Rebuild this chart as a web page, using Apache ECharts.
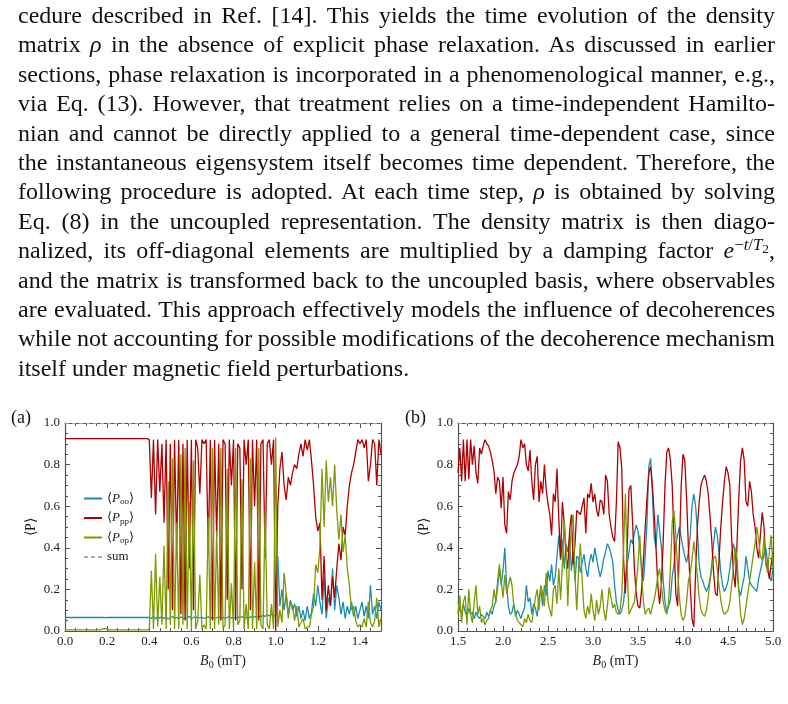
<!DOCTYPE html>
<html>
<head>
<meta charset="utf-8">
<script src="https://cdn.jsdelivr.net/npm/echarts@6/dist/echarts.min.js"></script>
<style>
html, body { margin: 0; padding: 0; background: #fff; }
#chart { position: absolute; left: 0; top: 0; width: 788px; height: 704px; }
#txt { position: absolute; left: 18px; top: 1px; width: 757px; font-family: 'Liberation Serif', serif;
       font-size: 24px; line-height: 29.4px; color: #111; }
#txt div { white-space: nowrap; }
#txt sup { font-size: 0.7em; line-height: 0; vertical-align: 0.5em; }
#txt sub { font-size: 0.8em; line-height: 0; vertical-align: -0.25em; }
</style>
</head>
<body>
<div id="chart"></div>
<div id="txt">
<div><span>cedure described in Ref. [14]. This yields the time evolution of the density</span></div>
<div><span>matrix <i>ρ</i> in the absence of explicit phase relaxation. As discussed in earlier</span></div>
<div><span>sections, phase relaxation is incorporated in a phenomenological manner, e.g.,</span></div>
<div><span>via Eq. (13). However, that treatment relies on a time-independent Hamilto-</span></div>
<div><span>nian and cannot be directly applied to a general time-dependent case, since</span></div>
<div><span>the instantaneous eigensystem itself becomes time dependent. Therefore, the</span></div>
<div><span>following procedure is adopted. At each time step, <i>ρ</i> is obtained by solving</span></div>
<div><span>Eq. (8) in the uncoupled representation. The density matrix is then diago-</span></div>
<div><span>nalized, its off-diagonal elements are multiplied by a damping factor <i>e</i><sup>−<i>t</i>/<i>T</i><sub>2</sub></sup>,</span></div>
<div><span>and the matrix is transformed back to the uncoupled basis, where observables</span></div>
<div><span>are evaluated. This approach effectively models the influence of decoherences</span></div>
<div><span>while not accounting for possible modifications of the decoherence mechanism</span></div>
<div class="last"><span>itself under magnetic field perturbations.</span></div>
</div>
<script>
// panel (a): B0 from 0 to 1.5 mT, step 0.01
const stepA = 0.01;
const redA = [
  0.925,0.925,0.925,0.925,0.925,0.925,0.925,0.925,0.925,0.925,
  0.925,0.925,0.925,0.925,0.925,0.925,0.925,0.925,0.925,0.925,
  0.925,0.925,0.925,0.925,0.925,0.925,0.925,0.925,0.925,0.925,
  0.925,0.925,0.925,0.925,0.925,0.925,0.925,0.925,0.925,0.925,
  0.92,0.64,0.92,0.56,0.92,0.67,0.90,0.52,0.92,0.20,
  0.90,0.10,0.92,0.40,0.92,0.08,0.90,0.05,0.92,0.30,
  0.92,0.10,0.92,0.88,0.66,0.92,0.90,0.92,0.38,0.92,
  0.05,0.92,0.45,0.90,0.05,0.92,0.90,0.15,0.92,0.70,
  0.92,0.05,0.90,0.88,0.20,0.92,0.80,0.92,0.10,0.92,
  0.60,0.92,0.05,0.90,0.92,0.35,0.90,0.92,0.80,0.92,
  0.00,
  0.60,0.78,0.86,0.70,0.63,0.74,0.70,0.76,0.80,0.78,
  0.85,0.90,0.84,0.92,0.87,0.92,0.82,0.70,0.55,0.48,
  0.52,0.15,0.36,0.10,0.22,0.12,0.26,0.16,0.30,0.42,
  0.34,0.50,0.46,0.60,0.70,0.76,0.80,0.86,0.92,0.90,
  0.92,0.88,0.92,0.72,0.80,0.92,0.90,0.70,0.92,0.85
];
const greenA = [
  0.005,0.005,0.005,0.005,0.005,0.005,0.005,0.005,0.005,0.005,
  0.005,0.005,0.005,0.005,0.005,0.005,0.005,0.005,0.01,0.012,
  0.01,0.005,0.005,0.005,0.005,0.005,0.005,0.005,0.005,0.005,
  0.005,0.005,0.005,0.005,0.005,0.005,0.005,0.005,0.005,0.005,
  0.01,0.29,0.01,0.37,0.02,0.26,0.03,0.41,0.01,0.72,
  0.03,0.83,0.01,0.52,0.01,0.85,0.03,0.88,0.01,0.62,
  0.01,0.82,0.01,0.05,0.27,0.01,0.03,0.01,0.55,0.01,
  0.88,0.01,0.48,0.03,0.88,0.01,0.03,0.78,0.01,0.23,
  0.01,0.88,0.03,0.05,0.73,0.01,0.13,0.01,0.83,0.01,
  0.33,0.01,0.88,0.03,0.01,0.58,0.03,0.01,0.13,0.01,
  0.93,
  0.02,0.10,0.04,0.28,0.18,0.06,0.14,0.12,0.05,0.12,
  0.02,0.04,0.06,0.01,0.02,0.02,0.08,0.12,0.32,0.28,
  0.40,0.78,0.50,0.82,0.62,0.74,0.60,0.80,0.58,0.44,
  0.56,0.38,0.46,0.30,0.22,0.10,0.12,0.05,0.02,0.03,
  0.02,0.06,0.02,0.14,0.04,0.02,0.05,0.16,0.02,0.06
];
const blueA = [
  0.065,0.065,0.065,0.065,0.065,0.065,0.065,0.065,0.065,0.065,
  0.065,0.065,0.065,0.065,0.065,0.065,0.065,0.065,0.066,0.064,
  0.066,0.065,0.065,0.065,0.065,0.065,0.065,0.065,0.065,0.065,
  0.065,0.065,0.065,0.065,0.065,0.065,0.065,0.065,0.065,0.065,
  0.065,0.06,0.07,0.058,0.068,0.062,0.07,0.06,0.066,0.058,
  0.064,0.07,0.06,0.066,0.058,0.068,0.062,0.06,0.066,0.07,
  0.06,0.065,0.068,0.062,0.064,0.066,0.06,0.065,0.068,0.062,
  0.066,0.06,0.064,0.068,0.062,0.066,0.06,0.065,0.07,0.062,
  0.066,0.06,0.068,0.064,0.07,0.062,0.066,0.06,0.068,0.064,
  0.07,0.066,0.072,0.068,0.075,0.07,0.078,0.072,0.08,0.075,
  0.07,
  0.36,0.12,0.20,0.10,0.18,0.08,0.15,0.10,0.13,0.07,
  0.12,0.06,0.10,0.05,0.12,0.06,0.09,0.18,0.12,0.22,
  0.14,0.08,0.26,0.06,0.16,0.12,0.30,0.10,0.22,0.16,
  0.08,0.14,0.06,0.12,0.08,0.14,0.07,0.12,0.06,0.10,
  0.14,0.07,0.12,0.06,0.22,0.08,0.12,0.06,0.14,0.10
];
const sumA = [[0, 0.997], [1.5, 0.997]];

// panel (b): B0 from 1.5 to 5.0 mT, step 0.02
const startB = 1.5;
const stepB = 0.02;
const redB = [
  0.76,0.88,0.72,0.92,0.72,0.92,0.73,0.92,0.80,0.89,
  0.76,0.71,0.88,0.85,0.89,0.92,0.90,0.89,0.86,0.82,
  0.77,0.66,0.74,0.72,0.59,0.74,0.51,0.47,0.67,0.63,
  0.72,0.76,0.78,0.80,0.84,0.92,0.88,0.90,0.80,0.77,
  0.87,0.72,0.63,0.80,0.84,0.62,0.72,0.66,0.80,0.68,
  0.61,0.56,0.46,0.66,0.62,0.78,0.54,0.35,0.62,0.52,
  0.36,0.30,0.48,0.56,0.32,0.42,0.58,0.58,0.56,0.60,
  0.64,0.47,0.66,0.64,0.71,0.62,0.66,0.58,0.55,0.63,
  0.62,0.56,0.75,0.72,0.56,0.50,0.45,0.43,0.62,0.91,
  0.88,0.78,0.34,0.18,0.40,0.68,0.70,0.52,0.30,0.18,
  0.12,0.11,0.20,0.34,0.50,0.64,0.76,0.79,0.70,0.56,
  0.40,0.22,0.13,0.22,0.43,0.70,0.86,0.88,0.82,0.70,
  0.45,0.18,0.12,0.40,0.70,0.85,0.82,0.64,0.40,0.22,
  0.06,0.02,0.28,0.50,0.62,0.70,0.73,0.75,0.72,0.66,
  0.55,0.43,0.28,0.18,0.17,0.34,0.50,0.62,0.72,0.79,
  0.76,0.70,0.45,0.28,0.21,0.42,0.64,0.82,0.88,0.82,
  0.62,0.60,0.72,0.67,0.56,0.50,0.40,0.35,0.46,0.57,
  0.50,0.33,0.30,0.25,0.32,0.38
];
const blueB = [
  0.14,0.10,0.08,0.13,0.09,0.07,0.11,0.08,0.09,0.06,
  0.09,0.07,0.06,0.08,0.07,0.06,0.09,0.07,0.10,0.08,
  0.12,0.14,0.21,0.30,0.22,0.29,0.40,0.22,0.12,0.08,
  0.09,0.13,0.07,0.10,0.08,0.06,0.09,0.11,0.22,0.14,
  0.16,0.08,0.13,0.11,0.07,0.16,0.20,0.12,0.22,0.17,
  0.29,0.24,0.32,0.22,0.26,0.36,0.46,0.34,0.44,0.30,
  0.42,0.38,0.45,0.29,0.38,0.24,0.36,0.35,0.28,0.33,
  0.37,0.30,0.26,0.33,0.37,0.33,0.40,0.35,0.30,0.26,
  0.30,0.35,0.38,0.42,0.40,0.37,0.33,0.22,0.14,0.10,
  0.08,0.10,0.14,0.24,0.32,0.38,0.44,0.42,0.47,0.51,
  0.48,0.40,0.30,0.24,0.36,0.52,0.79,0.83,0.66,0.45,
  0.40,0.56,0.56,0.40,0.24,0.14,0.09,0.12,0.15,0.26,
  0.32,0.42,0.46,0.50,0.45,0.40,0.36,0.33,0.38,0.46,
  0.60,0.66,0.60,0.48,0.32,0.26,0.24,0.21,0.19,0.21,
  0.25,0.32,0.42,0.50,0.46,0.38,0.28,0.22,0.19,0.21,
  0.24,0.30,0.37,0.42,0.38,0.28,0.20,0.17,0.22,0.26,
  0.36,0.30,0.24,0.22,0.21,0.20,0.19,0.25,0.29,0.33,
  0.37,0.40,0.33,0.26,0.24,0.30
];
const greenB = [
  0.08,0.17,0.04,0.14,0.17,0.03,0.20,0.08,0.04,0.14,
  0.22,0.08,0.12,0.04,0.06,0.03,0.05,0.06,0.10,0.12,
  0.20,0.14,0.24,0.32,0.24,0.16,0.27,0.18,0.22,0.26,
  0.22,0.12,0.08,0.05,0.04,0.03,0.02,0.06,0.04,0.08,
  0.05,0.04,0.10,0.16,0.20,0.10,0.22,0.18,0.12,0.28,
  0.14,0.10,0.07,0.20,0.22,0.13,0.30,0.15,0.32,0.54,
  0.40,0.12,0.36,0.50,0.56,0.26,0.10,0.30,0.42,0.24,
  0.10,0.06,0.12,0.08,0.18,0.10,0.05,0.15,0.08,0.12,
  0.20,0.10,0.05,0.12,0.21,0.16,0.11,0.13,0.09,0.08,
  0.10,0.18,0.40,0.66,0.30,0.08,0.10,0.12,0.14,0.22,
  0.32,0.46,0.28,0.14,0.08,0.10,0.11,0.08,0.12,0.15,
  0.20,0.26,0.30,0.22,0.14,0.10,0.08,0.14,0.30,0.52,
  0.58,0.46,0.30,0.16,0.08,0.05,0.07,0.14,0.24,0.28,
  0.34,0.43,0.36,0.26,0.16,0.10,0.08,0.07,0.10,0.16,
  0.24,0.30,0.35,0.36,0.30,0.22,0.15,0.10,0.08,0.08,
  0.10,0.14,0.22,0.30,0.40,0.35,0.20,0.08,0.03,0.06,
  0.12,0.18,0.24,0.30,0.36,0.42,0.50,0.44,0.36,0.34,
  0.45,0.32,0.28,0.38,0.46,0.30
];
const sumB = [[1.5, 0.997], [5.0, 0.997]];

const xTicksA = { min: 0, max: 1.5, interval: 0.2, minor: 4 };
const xTicksB = { min: 1.5, max: 5.0, interval: 0.5, minor: 5 };
const yTicks = { min: 0, max: 1.0, interval: 0.2, minor: 4 };

const BLUE = '#1b8db2', RED = '#b00000', GREEN = '#7d9a00', GRAY = '#aaaaaa', FRAME = '#555';
const FONT = 'Liberation Serif';

// justify each text line to the full column width
const COL = 757;
document.querySelectorAll('#txt div').forEach(d => {
  if (d.classList.contains('last')) return;
  const span = d.firstElementChild;
  const w = span.getBoundingClientRect().width;
  const gaps = span.textContent.split(' ').length - 1;
  d.style.wordSpacing = ((COL - w) / gaps).toFixed(2) + 'px';
});

function pairs(start, step, ys) {
  return ys.map((y, i) => [+(start + i * step).toFixed(3), y]);
}

const rich = {
  a: { fontFamily: FONT, fontSize: 13, color: '#222' },
  i: { fontFamily: FONT, fontSize: 13, fontStyle: 'italic', color: '#222' },
  s: { fontFamily: FONT, fontSize: 9, color: '#222', padding: [7, 0, 0, 0] },
  n: { fontFamily: FONT, fontSize: 14, color: '#222' },
  ni: { fontFamily: FONT, fontSize: 14, fontStyle: 'italic', color: '#222' },
  ns: { fontFamily: FONT, fontSize: 10, color: '#222', padding: [7, 0, 0, 0] }
};
const legendNames = {
  Poo: '{a|⟨}{i|P}{s|oo}{a|⟩}',
  Ppp: '{a|⟨}{i|P}{s|pp}{a|⟩}',
  Pop: '{a|⟨}{i|P}{s|op}{a|⟩}',
  sum: '{a|sum}'
};

function xAxes(grid, t) {
  const base = {
    gridIndex: grid, type: 'value', min: t.min, max: t.max, interval: t.interval,
    axisLine: { show: true, onZero: false, lineStyle: { color: FRAME, width: 1.2 } },
    axisTick: { show: true, inside: true, length: 5, lineStyle: { color: FRAME } },
    minorTick: { show: true, splitNumber: t.minor, length: 3, lineStyle: { color: FRAME } },
    splitLine: { show: false }
  };
  return [
    Object.assign({}, base, {
      position: 'bottom',
      axisLabel: { show: true, margin: 4, fontFamily: FONT, fontSize: 13, color: '#222',
        showMaxLabel: t.max === 5.0, formatter: v => v.toFixed(1) },
      name: '{ni|B}{ns|0}{n| (mT)}',
      nameLocation: 'middle', nameGap: 22,
      nameTextStyle: { rich: rich }
    }),
    Object.assign({}, base, { position: 'top', axisLabel: { show: false } })
  ];
}
function yAxes(grid) {
  const base = {
    gridIndex: grid, type: 'value', min: yTicks.min, max: yTicks.max, interval: yTicks.interval,
    axisLine: { show: true, onZero: false, lineStyle: { color: FRAME, width: 1.2 } },
    axisTick: { show: true, inside: true, length: 5, lineStyle: { color: FRAME } },
    minorTick: { show: true, splitNumber: yTicks.minor, length: 3, lineStyle: { color: FRAME } },
    splitLine: { show: false }
  };
  return [
    Object.assign({}, base, {
      position: 'left',
      axisLabel: { show: true, margin: 5, fontFamily: FONT, fontSize: 13, color: '#222',
        formatter: v => v.toFixed(1) },
      name: '⟨P⟩', nameLocation: 'middle', nameGap: 27, nameRotate: 90,
      nameTextStyle: { fontFamily: FONT, fontSize: 14, color: '#222' }
    }),
    Object.assign({}, base, { position: 'right', axisLabel: { show: false } })
  ];
}

function lines(xi, yi, blue, red, green, sum) {
  const common = { type: 'line', xAxisIndex: xi, yAxisIndex: yi, symbol: 'none', showSymbol: false,
    animation: false, silent: true };
  return [
    Object.assign({ name: 'Poo', data: blue, lineStyle: { color: BLUE, width: 1.3 }, itemStyle: { color: BLUE } }, common),
    Object.assign({ name: 'Ppp', data: red, lineStyle: { color: RED, width: 1.3 }, itemStyle: { color: RED } }, common),
    Object.assign({ name: 'Pop', data: green, lineStyle: { color: GREEN, width: 1.3 }, itemStyle: { color: GREEN } }, common),
    Object.assign({ name: 'sum', data: sum, lineStyle: { color: GRAY, width: 1, type: [4, 3] }, itemStyle: { color: GRAY } }, common)
  ];
}

const chart = echarts.init(document.getElementById('chart'));
chart.setOption({
  backgroundColor: '#fff',
  animation: false,
  textStyle: { fontFamily: FONT },
  grid: [
    { left: 65, top: 423, width: 316, height: 208 },
    { left: 458, top: 423, width: 315, height: 208 }
  ],
  xAxis: [].concat(xAxes(0, xTicksA), xAxes(1, xTicksB)),
  yAxis: [].concat(yAxes(0), yAxes(1)),
  legend: {
    left: 78, top: 487, orient: 'vertical', itemWidth: 18, itemHeight: 14, itemGap: 5,
    selectedMode: false,
    itemStyle: { opacity: 0 },
    data: ['Poo', 'Ppp', 'Pop', 'sum'],
    formatter: name => legendNames[name],
    textStyle: { fontFamily: FONT, fontSize: 13, color: '#222', rich: rich }
  },
  graphic: [
    { type: 'text', left: 11, top: 409, style: { text: '(a)', font: '18px "Liberation Serif"', fill: '#111' } },
    { type: 'text', left: 405, top: 409, style: { text: '(b)', font: '18px "Liberation Serif"', fill: '#111' } }
  ],
  series: [].concat(
    lines(0, 0, pairs(0, stepA, blueA), pairs(0, stepA, redA), pairs(0, stepA, greenA), sumA),
    lines(2, 2, pairs(startB, stepB, blueB), pairs(startB, stepB, redB), pairs(startB, stepB, greenB), sumB)
  )
});
</script>
</body>
</html>
